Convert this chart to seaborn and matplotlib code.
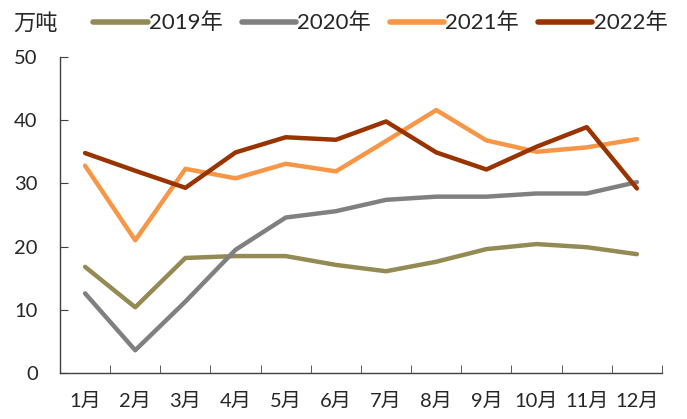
import pandas as pd
import seaborn as sns
import matplotlib.pyplot as plt
from matplotlib.ticker import MultipleLocator, FixedLocator

# --- Data ---
months = ["1月", "2月", "3月", "4月", "5月", "6月", "7月", "8月", "9月", "10月", "11月", "12月"]
y2019 = [16.8, 10.4, 18.2, 18.5, 18.5, 17.1, 16.1, 17.6, 19.6, 20.4, 19.9, 18.8]
y2020 = [12.6, 3.6, 11.3, 19.5, 24.6, 25.6, 27.4, 27.9, 27.9, 28.4, 28.4, 30.2]
y2021 = [32.8, 21.0, 32.3, 30.8, 33.1, 31.9, 36.7, 41.6, 36.8, 35.0, 35.7, 37.0]
y2022 = [34.8, 32.0, 29.3, 34.9, 37.3, 36.9, 39.8, 34.9, 32.2, 35.8, 38.9, 29.2]
years = ["2019年", "2020年", "2021年", "2022年"]
colors = ["#948A54", "#808080", "#F79646", "#993300"]

rows = []
for yr, vals in zip(years, [y2019, y2020, y2021, y2022]):
    for i, v in enumerate(vals):
        rows.append({"idx": i, "value": v, "year": yr})
df = pd.DataFrame(rows)

sns.set_style("ticks")
plt.rcParams['font.family'] = ['Lato', 'Noto Sans CJK SC', 'DejaVu Sans']

fig = plt.figure(figsize=(6.87, 4.19), dpi=100)
ax = fig.add_axes([0.0873, 0.1098, 0.8763, 0.7542])

sns.lineplot(data=df, x="idx", y="value", hue="year", palette=colors,
             linewidth=3.2, ax=ax, legend=False)

ax.set_xlim(-0.5, len(months) - 0.5)
ax.set_ylim(0, 50)
ax.yaxis.set_major_locator(MultipleLocator(10))
ax.xaxis.set_major_locator(FixedLocator(range(len(months))))
ax.set_xticklabels(months)
ax.xaxis.set_minor_locator(FixedLocator([i + 0.5 for i in range(-1, len(months))]))
ax.tick_params(axis="x", which="major", length=0, labelsize=14.5, pad=14)
ax.tick_params(axis="x", which="minor", length=6, direction="in", color="#404040")
ax.tick_params(axis="y", length=6, direction="in", labelsize=14.5, color="#404040", pad=16)
ax.set_xlabel("")
ax.set_ylabel("")
for s in ["top", "right"]:
    ax.spines[s].set_visible(False)
for s in ["left", "bottom"]:
    ax.spines[s].set_color("#404040")
    ax.spines[s].set_linewidth(1)

handles = [plt.Line2D([], [], color=c, linewidth=4, solid_capstyle="round") for c in colors]
fig.legend(handles, years, loc="center left", bbox_to_anchor=(0.136, 0.945), ncol=4,
           frameon=False, fontsize=16, handlelength=2.45, handletextpad=0.05,
           columnspacing=0.85, borderaxespad=0, borderpad=0)
fig.text(0.019, 0.945, "万吨", fontsize=16, va="center", ha="left")

fig.savefig("out.png", dpi=100)
